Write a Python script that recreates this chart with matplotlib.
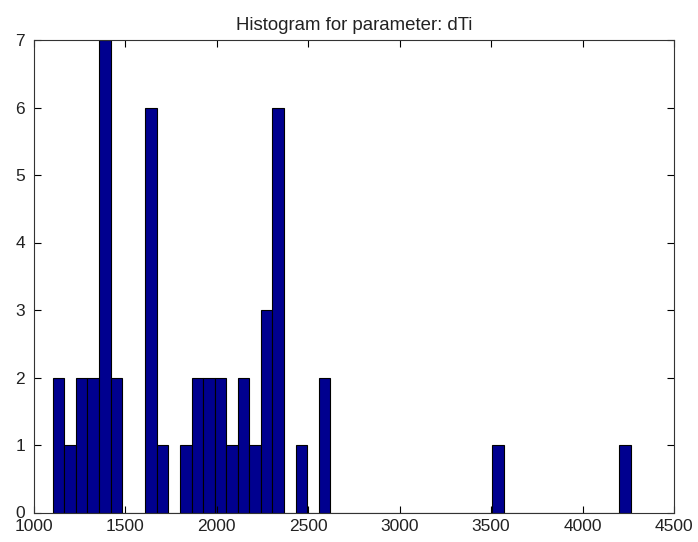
import matplotlib
matplotlib.use("Agg")
import matplotlib.pyplot as plt
from matplotlib import font_manager
import numpy as np

# Histogram data (MATLAB hist, 50 bins)
data_min = 1105.0
data_max = 4265.0
n_bins = 50
counts = [2, 1, 2, 2, 7, 2, 0, 0, 6, 1,
          0, 1, 2, 2, 2, 1, 2, 1, 3, 6,
          0, 1, 0, 2, 0, 0, 0, 0, 0, 0,
          0, 0, 0, 0, 0, 0, 0, 0, 1, 0,
          0, 0, 0, 0, 0, 0, 0, 0, 0, 1]
x_ticks = [1000, 1500, 2000, 2500, 3000, 3500, 4000, 4500]
y_ticks = [0, 1, 2, 3, 4, 5, 6, 7]
title = "Histogram for parameter: dTi"

plt.rcParams['font.family'] = ['Liberation Sans', 'DejaVu Sans']
names = {f.name for f in font_manager.fontManager.ttflist}
if 'Liberation Sans Narrow' in names:
    tick_family = ['Liberation Sans Narrow', 'Liberation Sans']
    tick_size = 14.5
else:
    tick_family = ['Liberation Sans', 'DejaVu Sans']
    tick_size = 12.5

edges = np.linspace(data_min, data_max, n_bins + 1)
centers = (edges[:-1] + edges[1:]) / 2
width = edges[1] - edges[0]

fig = plt.figure(figsize=(6.98, 5.42), dpi=100)
ax = fig.add_axes([33.5 / 698, 29.5 / 542, 640.5 / 698, 472.5 / 542])
ax.bar(centers, counts, width=width, color='#00008F', edgecolor='black', linewidth=0.8)

ax.set_xlim(1000, 4500)
ax.set_ylim(0, 7)
ax.set_xticks(x_ticks)
ax.set_yticks(y_ticks)
ax.tick_params(direction='in', top=True, right=True, length=5, width=0.8, colors='black')
ax.tick_params(axis='x', pad=5)
ax.tick_params(axis='y', pad=6)
for lbl in ax.get_xticklabels() + ax.get_yticklabels():
    lbl.set_family(tick_family)
    lbl.set_fontsize(tick_size)
    lbl.set_color('#222222')
for s in ax.spines.values():
    s.set_linewidth(0.8)
    s.set_color('#333333')
ax.set_title(title, fontsize=13.4, pad=7, color='#222222')

fig.savefig("out.png", dpi=100, facecolor='white')
